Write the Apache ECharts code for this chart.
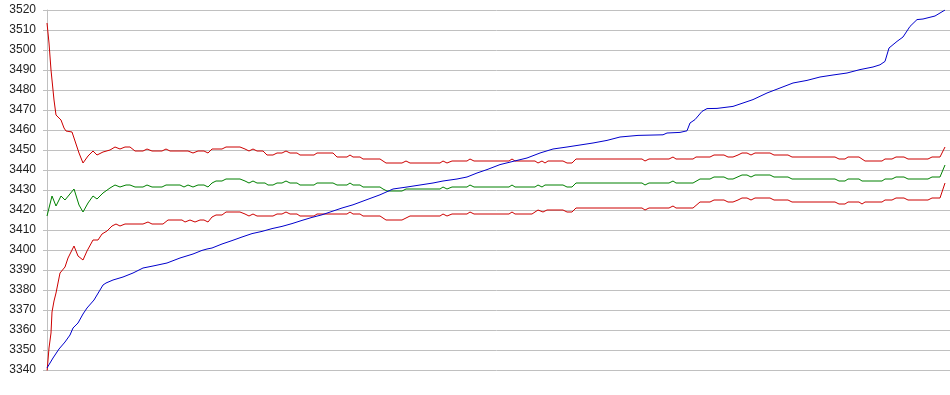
<!DOCTYPE html>
<html>
<head>
<meta charset="utf-8">
<script src="https://cdn.jsdelivr.net/npm/echarts@6/dist/echarts.min.js"></script>
<style>
html,body{margin:0;padding:0;background:#fff;}
#chart{width:950px;height:395px;}
</style>
</head>
<body>
<div id="chart"></div>
<script>
// y-axis tick values
const yTicks = [3340,3350,3360,3370,3380,3390,3400,3410,3420,3430,3440,3450,3460,3470,3480,3490,3500,3510,3520];

// upper red band (sample position, value)
const upperT = [0,2,4,6,7,9,14,17,19,25,27,32,36,41,46,50,56,63,68,73,78,83,88,96,100,105,115,119,123,135,137,141,146,151,157,161,165,175,179,193,198,202,206,210,216,220,226,230,235,239,243,250,253,267,270,286,290,300,303,306,313,316,333,339,355,359,363,393,396,400,405,420,423,427,462,465,468,488,491,495,498,501,516,520,525,529,595,598,602,622,626,629,646,649,663,667,677,681,686,691,695,700,704,708,723,727,741,745,788,792,798,801,812,818,835,838,840,845,849,857,861,881,885,893,898];
const upperV = [3513.5,3503.5,3490,3480,3475,3467.5,3465,3461,3459.5,3459,3458,3448.5,3443.5,3447,3449.5,3447.5,3449,3450,3451.5,3450.5,3451.5,3451.5,3449.5,3449.5,3450.5,3449.5,3449.5,3450.5,3449.5,3449.5,3448.5,3449.5,3448.5,3449.5,3449.5,3448.5,3450.5,3450.5,3451.5,3451.5,3450.5,3449.5,3450.5,3449.5,3449.5,3447.5,3447.5,3448.5,3448.5,3449.5,3448.5,3448.5,3447.5,3447.5,3448.5,3448.5,3446.5,3446.5,3447.5,3446.5,3446.5,3445.5,3445.5,3443.5,3443.5,3444.5,3443.5,3443.5,3444.5,3443.5,3444.5,3444.5,3445.5,3444.5,3444.5,3445.5,3444.5,3444.5,3443.5,3444.5,3443.5,3444.5,3444.5,3443.5,3443.5,3445.5,3445.5,3444.5,3445.5,3445.5,3446.5,3445.5,3445.5,3446.5,3446.5,3447.5,3447.5,3446.5,3446.5,3447.5,3448.5,3448.5,3447.5,3448.5,3448.5,3447.5,3447.5,3446.5,3446.5,3445.5,3445.5,3446.5,3446.5,3444.5,3444.5,3445.5,3444.5,3445.5,3446.5,3446.5,3445.5,3445.5,3446.5,3446.5,3451.5];

// green middle line
const greenT = [0,5,9,14,18,27,32,36,41,46,50,56,63,68,73,79,83,88,96,100,105,115,119,133,137,141,146,151,157,161,165,169,175,179,193,198,202,206,210,218,221,226,230,235,239,243,250,253,267,270,286,290,300,303,306,313,316,333,336,340,355,359,393,396,400,405,420,423,427,462,465,468,488,491,495,498,516,520,525,529,595,598,602,622,626,629,646,653,663,667,677,681,686,695,700,704,708,723,727,741,745,788,792,798,801,812,815,835,838,840,845,849,857,861,881,885,893,898];
const greenV = [3417,3427,3422,3427,3425,3430.5,3422.5,3419,3423.5,3427,3425.5,3428.5,3431,3432.5,3431.5,3432.5,3432.5,3431.5,3431.5,3432.5,3431.5,3431.5,3432.5,3432.5,3431.5,3432.5,3431.5,3432.5,3432.5,3431.5,3433.5,3434.5,3434.5,3435.5,3435.5,3434.5,3433.5,3434.5,3433.5,3433.5,3432.5,3432.5,3433.5,3433.5,3434.5,3433.5,3433.5,3432.5,3432.5,3433.5,3433.5,3432.5,3432.5,3433.5,3432.5,3432.5,3431.5,3431.5,3430.5,3429.5,3429.5,3430.5,3430.5,3431.5,3430.5,3431.5,3431.5,3432.5,3431.5,3431.5,3432.5,3431.5,3431.5,3432.5,3431.5,3432.5,3432.5,3431.5,3431.5,3433.5,3433.5,3432.5,3433.5,3433.5,3434.5,3433.5,3433.5,3435.5,3435.5,3436.5,3436.5,3435.5,3435.5,3437.5,3437.5,3436.5,3437.5,3437.5,3436.5,3436.5,3435.5,3435.5,3434.5,3434.5,3435.5,3435.5,3434.5,3434.5,3435.5,3434.5,3435.5,3436.5,3436.5,3435.5,3435.5,3436.5,3436.5,3442.5];

// lower red band
const lowerT = [0,2,4,5,7,9,11,13,15,18,21,27,31,36,40,46,51,55,60,65,69,73,78,96,101,105,116,121,135,138,143,148,153,157,161,165,169,175,179,193,198,202,206,210,226,230,235,239,243,250,253,267,270,300,303,306,313,316,333,339,355,359,363,393,396,400,405,420,423,427,462,465,468,485,488,491,496,500,516,520,525,529,595,598,602,622,626,629,646,653,663,667,677,681,686,691,695,700,704,708,723,727,741,745,788,792,798,801,812,815,818,835,838,840,845,849,857,861,881,885,893,898];
const lowerV = [3339,3351,3358.5,3369,3374.5,3378.5,3383.5,3388.5,3389.5,3391.5,3396,3402,3397,3395,3399.5,3405,3405,3408,3409.5,3412,3413,3412,3413,3413,3414,3413,3413,3415,3415,3414,3415,3414,3415,3415,3414,3416.5,3417.5,3417.5,3419,3419,3418,3417,3418,3417,3417,3418,3418,3419,3418,3418,3417,3417,3418,3418,3419,3418,3418,3417,3417,3415,3415,3416,3417,3417,3418,3417,3418,3418,3419,3418,3418,3419,3418,3418,3419,3420,3419,3420,3420,3419,3419,3421,3421,3420,3421,3421,3422,3421,3421,3424,3424,3425,3425,3424,3424,3425,3426,3426,3425,3426,3426,3425,3425,3424,3424,3423,3423,3424,3424,3423,3424,3424,3425,3424,3425,3426,3426,3425,3425,3426,3426,3433.5];

// blue rising line
const blueT = [0,6,12,18,23,26,31,36,40,47,53,56,59,66,76,86,96,106,120,133,146,155,160,165,175,185,195,205,215,225,235,245,255,265,275,285,295,306,320,333,346,360,373,386,396,410,420,430,440,453,466,480,493,506,520,533,546,560,573,591,616,620,633,640,643,648,655,660,670,671,686,696,706,720,733,746,760,773,786,800,813,826,833,838,842,850,856,863,870,876,888,898];
const blueV = [3341,3346,3350.5,3354,3357.5,3361,3363.5,3368,3371,3375,3380,3382.5,3383.5,3385,3386.5,3388.5,3391,3392,3393.5,3396,3398,3399.8,3400.5,3401,3403,3404.7,3406.5,3408.2,3409.3,3410.7,3411.8,3413.2,3414.8,3416.3,3417.6,3419.3,3421,3422.6,3425.2,3427.6,3430.5,3431.5,3432.5,3433.5,3434.5,3435.5,3436.5,3438.5,3440.2,3442.7,3444.3,3446,3448.5,3450.5,3451.5,3452.5,3453.5,3454.8,3456.5,3457.3,3457.6,3458.5,3458.8,3459.6,3463.5,3465.2,3469.3,3470.7,3470.8,3471.5,3471.8,3473.5,3475.2,3478.5,3481,3483.5,3484.8,3486.5,3487.5,3488.5,3490.2,3491.5,3492.6,3494.3,3501,3504.3,3506.5,3511.8,3515.2,3515.5,3517,3520];

const pairs = (t, v) => t.map((x, i) => [x, v[i]]);
const lineSeries = (name, t, v, color) => ({
  name, type: 'line', data: pairs(t, v), showSymbol: false, symbol: 'none',
  lineStyle: { color, width: 1 }, itemStyle: { color }, clip: true, silent: true
});

const chart = echarts.init(document.getElementById('chart'), null, { renderer: 'canvas' });
chart.setOption({
  animation: false,
  backgroundColor: '#ffffff',
  grid: { left: 43, right: 0, top: 10, bottom: 25, containLabel: false },
  xAxis: { type: 'value', min: -4, max: 903, show: false },
  yAxis: {
    type: 'value',
    min: yTicks[0], max: yTicks[yTicks.length - 1], interval: 10,
    axisLine: { show: true, lineStyle: { color: '#c0c0c0', width: 1 } },
    axisTick: { show: false },
    axisLabel: { color: '#222222', fontSize: 12, fontFamily: '"Liberation Sans", Arial, sans-serif', margin: 7,
      formatter: v => String(v) },
    splitLine: { show: true, lineStyle: { color: '#c0c0c0', width: 1 } }
  },
  series: [
    lineSeries('upper', upperT, upperV, '#cc0000'),
    lineSeries('mean', greenT, greenV, '#008000'),
    lineSeries('lower', lowerT, lowerV, '#cc0000'),
    lineSeries('sorted', blueT, blueV, '#0000cc')
  ]
});
</script>
</body>
</html>
